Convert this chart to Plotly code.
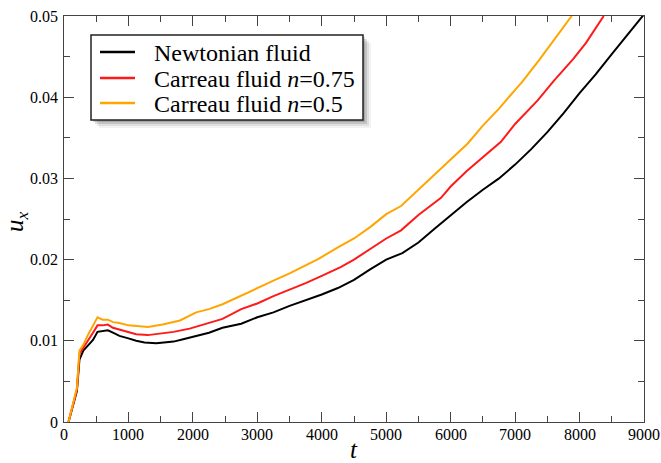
import plotly.graph_objects as go

# Newtonian fluid
t_newt = [70, 200, 240, 300, 370, 450, 520, 600, 680, 760, 860, 1000, 1120, 1250, 1430,
          1550, 1700, 1850, 2050, 2250, 2460, 2750, 3000, 3250, 3500, 3750, 4000, 4250,
          4500, 4750, 5000, 5250, 5500, 5750, 6000, 6250, 6500, 6750, 7000, 7250, 7500,
          7750, 8000, 8250, 8500, 8750, 9000]
u_newt = [0.0, 0.0038, 0.0077, 0.0088, 0.0094, 0.0101, 0.0111, 0.0112, 0.0113, 0.0110,
          0.0106, 0.0103, 0.0100, 0.0098, 0.0097, 0.0098, 0.0099, 0.0102, 0.0106, 0.0110,
          0.0116, 0.0121, 0.0129, 0.0135, 0.0143, 0.0150, 0.0157, 0.0165, 0.0175, 0.0188,
          0.0200, 0.0208, 0.0221, 0.0238, 0.0255, 0.0271, 0.0286, 0.0300, 0.0317, 0.0336,
          0.0357, 0.0380, 0.0405, 0.0428, 0.0453, 0.0478, 0.0502]

# Carreau fluid n=0.75
t_c075 = [70, 200, 240, 300, 370, 450, 520, 600, 680, 760, 860, 1000, 1120, 1300, 1500,
          1700, 1950, 2200, 2460, 2750, 3000, 3250, 3500, 3750, 4000, 4300, 4500, 4750,
          5000, 5230, 5500, 5850, 6000, 6250, 6500, 6780, 7000, 7350, 7600, 7900, 8100,
          8250, 8375]
u_c075 = [0.0, 0.0040, 0.0084, 0.0092, 0.0100, 0.0110, 0.0119, 0.0119, 0.0120, 0.0116,
          0.0114, 0.0111, 0.0108, 0.0107, 0.0109, 0.0111, 0.0115, 0.0121, 0.0127, 0.0139,
          0.0146, 0.0155, 0.0163, 0.0171, 0.0180, 0.0191, 0.0200, 0.0213, 0.0226, 0.0236,
          0.0255, 0.0276, 0.0290, 0.0309, 0.0326, 0.0345, 0.0367, 0.0396, 0.0420, 0.0447,
          0.0467, 0.0485, 0.0500]

# Carreau fluid n=0.5
t_c05 = [70, 200, 240, 300, 370, 450, 520, 600, 680, 760, 860, 1000, 1120, 1300, 1530,
         1800, 2050, 2250, 2460, 2750, 3000, 3250, 3500, 3750, 3950, 4250, 4500, 4750,
         5000, 5230, 5500, 5750, 6000, 6265, 6500, 6750, 7000, 7100, 7375, 7600, 7878]
u_c05 = [0.0, 0.0042, 0.0088, 0.0095, 0.0107, 0.0118, 0.0129, 0.0126, 0.0126, 0.0123,
         0.0122, 0.0119, 0.0118, 0.0117, 0.0120, 0.0125, 0.0135, 0.0139, 0.0145, 0.0156,
         0.0165, 0.0174, 0.0183, 0.0193, 0.0201, 0.0215, 0.0226, 0.0240, 0.0256, 0.0266,
         0.0286, 0.0305, 0.0324, 0.0343, 0.0365, 0.0386, 0.0409, 0.0418, 0.0446, 0.0470,
         0.0500]

# tick labels
x_ticks = [0, 1000, 2000, 3000, 4000, 5000, 6000, 7000, 8000, 9000]
x_tick_labels = ["0", "1000", "2000", "3000", "4000", "5000", "6000", "7000", "8000", "9000"]
y_ticks = [0, 0.01, 0.02, 0.03, 0.04, 0.05]
y_tick_labels = ["0", "0.01", "0.02", "0.03", "0.04", "0.05"]

names = ["Newtonian fluid", "Carreau fluid <i>n</i>=0.75", "Carreau fluid <i>n</i>=0.5"]
colors = ["#000000", "#ff1a1a", "#ffa500"]

SERIF = "Liberation Serif"

fig = go.Figure()
for t, u, nm, c in [(t_newt, u_newt, names[0], colors[0]),
                    (t_c075, u_c075, names[1], colors[1]),
                    (t_c05, u_c05, names[2], colors[2])]:
    fig.add_trace(go.Scatter(x=t, y=u, mode="lines", name=nm,
                             line=dict(color=c, width=2), showlegend=False))

W, H = 661, 463
ml, mr, mt, mb = 64, 17, 16, 41
pw, ph = W - ml - mr, H - mt - mb

def px(x):
    return (x - ml) / pw

def py(y):
    return (H - mb - y) / ph

# ---- hand-drawn legend (box with soft shadow) ----
bx0, by0, bx1, by1 = 91, 35, 363, 120
for off, op in [(8, 0.05), (6, 0.08), (4, 0.12), (2, 0.15)]:
    fig.add_shape(type="rect", xref="paper", yref="paper",
                  x0=px(bx0 + off), x1=px(bx1 + off), y0=py(by1 + off), y1=py(by0 + off),
                  line=dict(width=0), fillcolor="rgba(0,0,0,%s)" % op, layer="above")
fig.add_shape(type="rect", xref="paper", yref="paper",
              x0=px(bx0), x1=px(bx1), y0=py(by1), y1=py(by0),
              line=dict(width=1.5, color="#222"), fillcolor="white", layer="above")
row_y = [52, 78, 103]
for ry, nm, c in zip(row_y, names, colors):
    fig.add_shape(type="line", xref="paper", yref="paper",
                  x0=px(100), x1=px(135), y0=py(ry), y1=py(ry),
                  line=dict(color=c, width=2.5), layer="above")
    fig.add_annotation(xref="paper", yref="paper", x=px(152), y=py(ry + 1),
                       xanchor="left", yanchor="middle", text=nm, showarrow=False,
                       font=dict(family=SERIF, size=24, color="#000"))

# ---- tick labels as serif text ----
for v, lab in zip(x_ticks, x_tick_labels):
    fig.add_annotation(xref="x", yref="paper", x=v, y=py(434), text=lab,
                       xanchor="center", yanchor="middle", showarrow=False,
                       font=dict(family=SERIF, size=16, color="#000"))
for v, lab in zip(y_ticks, y_tick_labels):
    fig.add_annotation(xref="paper", yref="y", x=px(60), y=v, text=lab,
                       xanchor="right", yanchor="middle", showarrow=False,
                       font=dict(family=SERIF, size=16, color="#000"))

# ---- axis titles ----
fig.add_annotation(xref="paper", yref="paper", x=px(354), y=py(449),
                   xanchor="center", yanchor="middle", text="<i>t</i>", showarrow=False,
                   font=dict(family=SERIF, size=25, color="#000"))
fig.add_annotation(xref="paper", yref="paper", x=px(17), y=py(222),
                   xanchor="center", yanchor="middle", text="<i>u</i><sub><i>x</i></sub>",
                   showarrow=False, textangle=-90,
                   font=dict(family=SERIF, size=25, color="#000"))

axis_common = dict(
    showline=True, linecolor="#444", linewidth=1.3, mirror="ticks",
    ticks="inside", ticklen=10, tickcolor="#444", tickwidth=1,
    showgrid=False, zeroline=False, automargin=False, showticklabels=False,
)
fig.update_layout(
    width=W, height=H,
    margin=dict(l=ml, r=mr, t=mt, b=mb),
    paper_bgcolor="white", plot_bgcolor="white",
    font=dict(family=SERIF, color="#000"),
    xaxis=dict(range=[0, 9000], tickvals=x_ticks,
               minor=dict(dtick=500, ticks="inside", ticklen=6, tickcolor="#444"),
               **axis_common),
    yaxis=dict(range=[0, 0.05], tickvals=y_ticks,
               minor=dict(dtick=0.005, ticks="inside", ticklen=6, tickcolor="#444"),
               **axis_common),
    showlegend=False,
)
fig.write_html("out.html")
